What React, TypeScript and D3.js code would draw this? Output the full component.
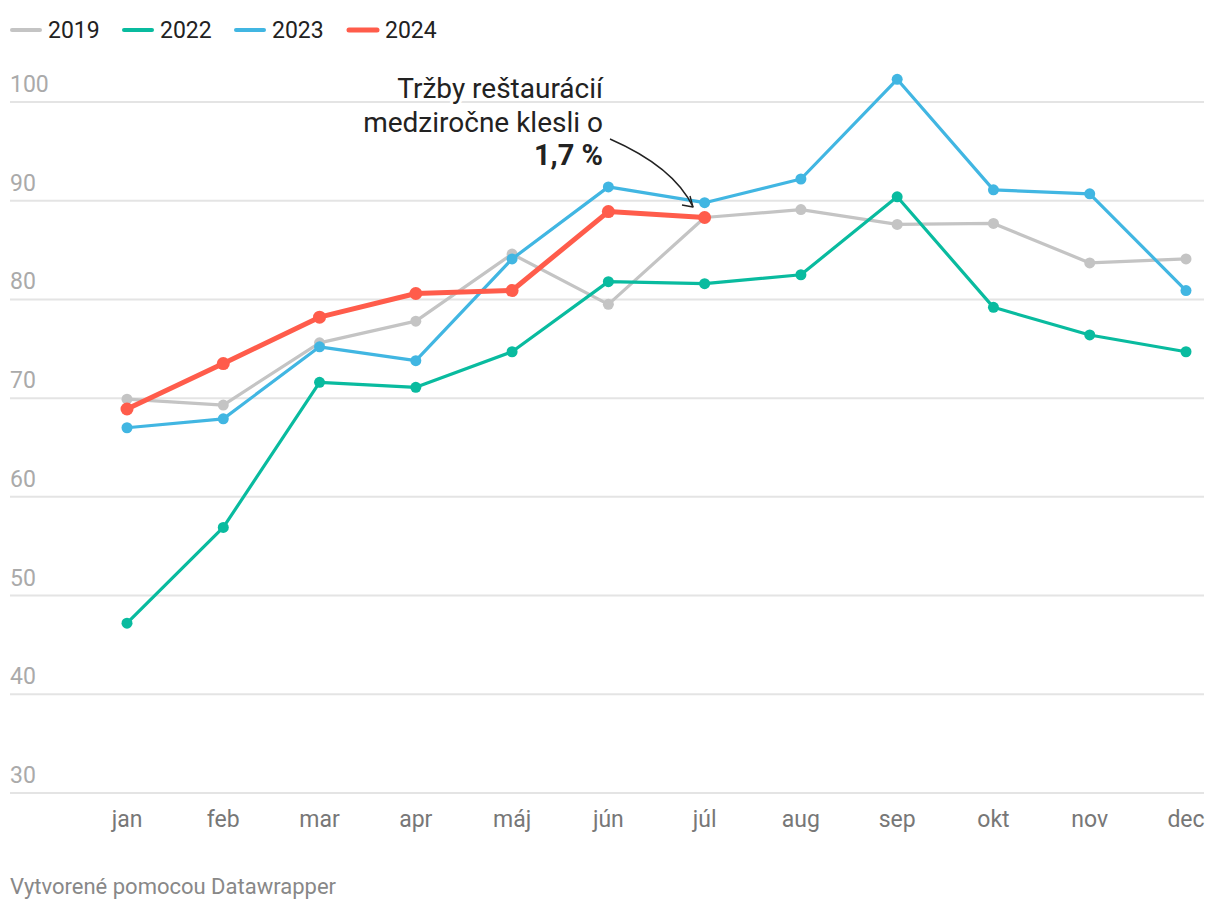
import React from "react";
import * as d3 from "d3";

const months = ["jan", "feb", "mar", "apr", "máj", "jún", "júl", "aug", "sep", "okt", "nov", "dec"];
const yTicks = [30, 40, 50, 60, 70, 80, 90, 100];

const s2019 = [69.9, 69.3, 75.6, 77.8, 84.6, 79.5, 88.3, 89.1, 87.6, 87.7, 83.7, 84.1];
const s2022 = [47.2, 56.9, 71.6, 71.1, 74.7, 81.8, 81.6, 82.5, 90.4, 79.2, 76.4, 74.7];
const s2023 = [67.0, 67.9, 75.2, 73.8, 84.1, 91.4, 89.8, 92.2, 102.3, 91.1, 90.7, 80.9];
const s2024 = [68.9, 73.5, 78.2, 80.6, 80.9, 88.9, 88.3];

const seriesNames = ["2019", "2022", "2023", "2024"];
const seriesData = [s2019, s2022, s2023, s2024];
const seriesColors = ["#c4c4c4", "#09bb9f", "#41b6e2", "#ff5c4b"];
const seriesWidths = [3.2, 3.2, 3.2, 5];
const dotRadius = [5.5, 5.5, 5.5, 6.5];

const annotationLines = ["Tržby reštaurácií", "medziročne klesli o"];
const annotationBold = "1,7 %";

export default function App() {
  const W = 1220;
  const H = 910;
  const x = d3.scalePoint<string>().domain(months).range([127, 1186]);
  const y = d3.scaleLinear().domain([30, 100]).range([793, 102]);
  const line = d3
    .line<number>()
    .x((_, i) => x(months[i]) as number)
    .y((d) => y(d));

  const font = "Roboto, 'Noto Sans', sans-serif";
  const legendX = [10, 122, 234, 347];

  return (
    <svg width={W} height={H} style={{ position: "absolute", left: 0, top: 0 }} fontFamily={font}>
      <rect width={W} height={H} fill="#fff" />
      {/* legend */}
      {seriesNames.map((n, i) => (
        <g key={n}>
          <line
            x1={legendX[i] + 2}
            x2={legendX[i] + 30}
            y1={30}
            y2={30}
            stroke={seriesColors[i]}
            strokeWidth={i === 3 ? 5 : 4}
            strokeLinecap="round"
          />
          <text x={legendX[i] + 38} y={38} fontSize={23} fill="#222">
            {n}
          </text>
        </g>
      ))}
      {/* grid */}
      {yTicks.map((t) => (
        <g key={t}>
          <line x1={10} x2={1204} y1={y(t)} y2={y(t)} stroke="#e4e4e4" strokeWidth={2} />
          <text x={10} y={y(t) - 10} fontSize={23} fill="#aaaaaa">
            {t}
          </text>
        </g>
      ))}
      {/* x labels */}
      {months.map((m) => (
        <text key={m} x={x(m)} y={827} fontSize={23} fill="#777" textAnchor="middle">
          {m}
        </text>
      ))}
      {/* annotation */}
      <g fontSize={28} fill="#222" textAnchor="end">
        {annotationLines.map((l, i) => (
          <text
            key={i}
            x={603}
            y={98 + i * 33.5}
            stroke="#fff"
            strokeWidth={6}
            paintOrder="stroke"
            strokeLinejoin="round"
          >
            {l}
          </text>
        ))}
        <text x={603} y={165} fontSize={29} fontWeight="bold" stroke="#fff" strokeWidth={6} paintOrder="stroke">
          {annotationBold}
        </text>
      </g>
      {/* series */}
      {seriesData.map((d, i) => (
        <g key={seriesNames[i]}>
          <path
            d={line(d) as string}
            fill="none"
            stroke={seriesColors[i]}
            strokeWidth={seriesWidths[i]}
            strokeLinejoin="round"
            strokeLinecap="round"
          />
          {d.map((v, j) => (
            <circle key={j} cx={x(months[j])} cy={y(v)} r={dotRadius[i]} fill={seriesColors[i]} />
          ))}
        </g>
      ))}
      {/* arrow */}
      <path d="M610,139 Q674,167 693,207" fill="none" stroke="#222" strokeWidth={1.4} />
      <path d="M690,196 L693,207 L682,205" fill="none" stroke="#222" strokeWidth={1.4} strokeLinejoin="round" />
      {/* footer */}
      <text x={10} y={894} fontSize={22} fill="#888">
        Vytvorené pomocou Datawrapper
      </text>
    </svg>
  );
}
